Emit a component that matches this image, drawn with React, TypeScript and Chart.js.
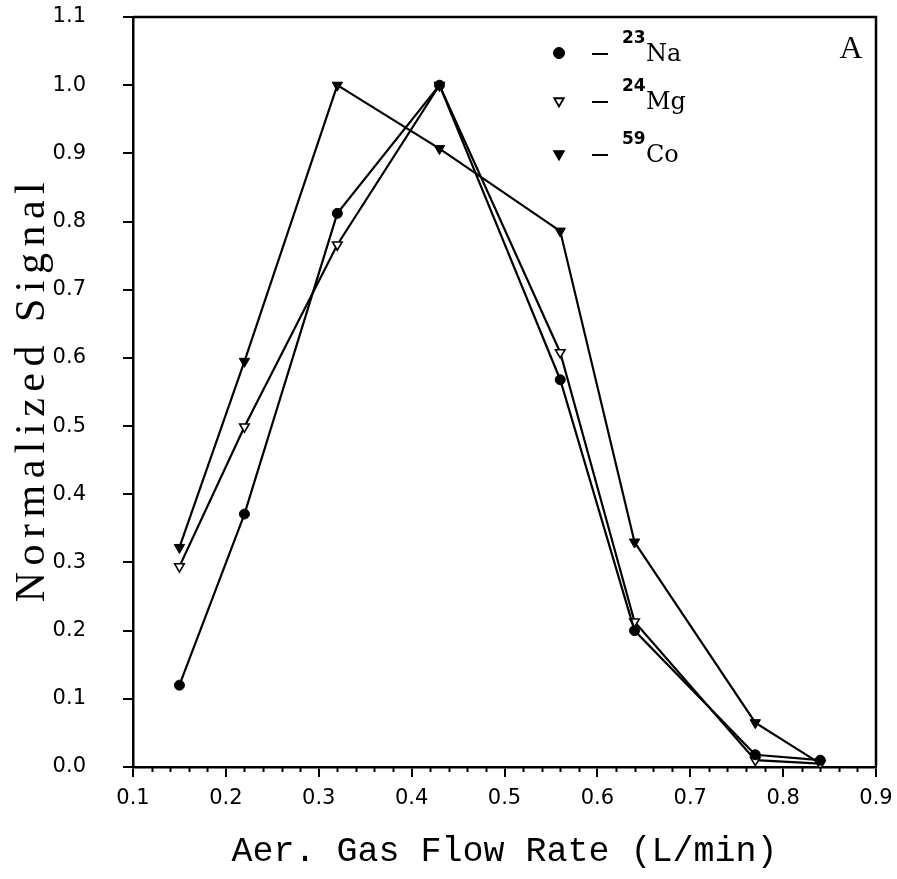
import React, { useEffect, useRef } from "react";
import { Chart, registerables } from "chart.js";
import { drawPoint } from "chart.js/helpers";

Chart.register(...registerables);

// ---- data ----
const flowRates = [0.15, 0.22, 0.32, 0.43, 0.56, 0.64, 0.77, 0.84];
const na23 = [0.12, 0.371, 0.812, 1.0, 0.568, 0.2, 0.018, 0.01];
const mg24 = [0.294, 0.499, 0.766, 1.0, 0.608, 0.213, 0.01, 0.005];
const co59 = [0.322, 0.595, 1.0, 0.907, 0.786, 0.33, 0.065, 0.005];

const seriesNames = ["Na", "Mg", "Co"];
const seriesMass = ["23", "24", "59"];

const xMin = 0.1;
const xMax = 0.9;
const xStep = 0.1;
const xMinorDivisions = 5;
const yMin = 0;
const yMax = 1.1;
const yStep = 0.1;

const xTitle = "Aer. Gas Flow Rate (L/min)";
const yTitle = "Normalized Signal";
const panelLabel = "A";

const toPoints = (ys: number[]) => flowRates.map((x, i) => ({ x, y: ys[i] }));

const markerStyles = [
  { pointStyle: "circle", rotation: 0, radius: 5.5, fill: "#000", borderWidth: 1 },
  { pointStyle: "triangle", rotation: 180, radius: 5.5, fill: "#fff", borderWidth: 1.8 },
  { pointStyle: "triangle", rotation: 180, radius: 6.5, fill: "#000", borderWidth: 1 },
];

const decorPlugin = {
  id: "decor",
  afterDraw(chart: any) {
    const { ctx, chartArea } = chart;
    const { left, right, top, bottom } = chartArea;
    const xs = chart.scales.x;
    ctx.save();
    ctx.strokeStyle = "#000";
    ctx.fillStyle = "#000";

    // frame: top and right
    ctx.lineWidth = 2.5;
    ctx.beginPath();
    ctx.moveTo(left, top);
    ctx.lineTo(right, top);
    ctx.lineTo(right, bottom);
    ctx.stroke();

    // minor x ticks
    ctx.lineWidth = 2;
    const n = Math.round((xMax - xMin) / xStep) * xMinorDivisions;
    for (let i = 1; i < n; i++) {
      if (i % xMinorDivisions === 0) continue;
      const v = xMin + (i * xStep) / xMinorDivisions;
      const px = Math.round(xs.getPixelForValue(v)) + 0.5;
      ctx.beginPath();
      ctx.moveTo(px, bottom);
      ctx.lineTo(px, bottom + 5);
      ctx.stroke();
    }

    // y title (rotated, letter-spaced serif)
    ctx.save();
    ctx.font = "42px 'Liberation Serif'";
    (ctx as any).letterSpacing = "6.5px";
    ctx.textAlign = "center";
    ctx.textBaseline = "alphabetic";
    ctx.translate(44, (top + bottom) / 2);
    ctx.rotate(-Math.PI / 2);
    ctx.fillText(yTitle, 3, 0);
    ctx.restore();

    // panel label
    ctx.font = "32px 'Liberation Serif'";
    ctx.textAlign = "center";
    ctx.textBaseline = "alphabetic";
    ctx.fillText(panelLabel, right - 25, top + 41);

    // legend
    const lx = left + 426;
    const rows = [top + 36, top + 84, top + 137];
    for (let i = 0; i < 3; i++) {
      const y = rows[i];
      const m = markerStyles[i];
      ctx.fillStyle = m.fill;
      ctx.strokeStyle = "#000";
      ctx.lineWidth = m.borderWidth;
      drawPoint(ctx, { pointStyle: m.pointStyle as any, rotation: m.rotation, radius: m.radius, borderWidth: m.borderWidth }, lx, y);
      ctx.fillStyle = "#000";
      ctx.lineWidth = 2;
      ctx.beginPath();
      ctx.moveTo(lx + 33, y + 1);
      ctx.lineTo(lx + 49, y + 1);
      ctx.stroke();
      ctx.textAlign = "left";
      ctx.font = "bold 17px 'DejaVu Sans'";
      ctx.fillText(seriesMass[i], lx + 63, y - 10);
      ctx.font = "24px 'DejaVu Serif'";
      ctx.fillText(seriesNames[i], lx + 87, y + 8);
    }
    ctx.restore();
  },
};

export default function App() {
  const ref = useRef<HTMLCanvasElement | null>(null);

  useEffect(() => {
    if (!ref.current) return;
    const common = { borderColor: "#000", borderWidth: 2.2, tension: 0, pointBorderColor: "#000" };
    const chart = new Chart(ref.current, {
      type: "line",
      data: {
        datasets: [
          {
            ...common,
            label: "23Na",
            data: toPoints(na23),
            pointStyle: "circle",
            pointRadius: 5,
            pointBackgroundColor: "#000",
            pointBorderWidth: 1,
          },
          {
            ...common,
            label: "24Mg",
            data: toPoints(mg24),
            pointStyle: "triangle",
            pointRotation: 180,
            pointRadius: 5.5,
            pointBackgroundColor: "#fff",
            pointBorderWidth: 1.6,
          },
          {
            ...common,
            label: "59Co",
            data: toPoints(co59),
            pointStyle: "triangle",
            pointRotation: 180,
            pointRadius: 6,
            pointBackgroundColor: "#000",
            pointBorderWidth: 1,
          },
        ] as any,
      },
      options: {
        responsive: false,
        animation: false,
        layout: { padding: { top: 17, right: 21, left: 0, bottom: 0 } },
        plugins: { legend: { display: false }, tooltip: { enabled: false } },
        scales: {
          x: {
            type: "linear",
            min: xMin,
            max: xMax,
            afterFit: (s: any) => {
              s.height = 112;
              s.paddingLeft = 0;
              s.paddingRight = 0;
            },
            ticks: {
              stepSize: xStep,
              autoSkip: false,
              color: "#000",
              padding: 9,
              maxRotation: 0,
              font: { family: "'DejaVu Sans'", size: 21 },
              callback: (v: any) => Number(v).toFixed(1),
            },
            grid: {
              drawOnChartArea: false,
              drawTicks: true,
              tickLength: 10,
              color: "#000",
              lineWidth: 2,
            },
            border: { display: true, color: "#000", width: 2.5 },
            title: {
              display: true,
              text: xTitle,
              color: "#000",
              font: { family: "'Liberation Mono'", size: 35 },
              padding: { top: 0, bottom: 6 },
            },
          },
          y: {
            type: "linear",
            min: yMin,
            max: yMax,
            afterFit: (s: any) => {
              s.width = 133;
              s.paddingTop = 0;
              s.paddingBottom = 0;
            },
            ticks: {
              stepSize: yStep,
              autoSkip: false,
              color: "#000",
              padding: 37,
              font: { family: "'DejaVu Sans'", size: 21 },
              callback: (v: any) => Number(v).toFixed(1),
            },
            grid: {
              drawOnChartArea: false,
              drawTicks: true,
              tickLength: 10,
              color: "#000",
              lineWidth: 2,
            },
            border: { display: true, color: "#000", width: 2.5 },
          },
        },
      },
      plugins: [decorPlugin],
    } as any);
    return () => chart.destroy();
  }, []);

  return (
    <div style={{ position: "absolute", left: 0, top: 0, width: 897, height: 879, background: "#fff" }}>
      <canvas ref={ref} width={897} height={879} style={{ display: "block" }} />
    </div>
  );
}
